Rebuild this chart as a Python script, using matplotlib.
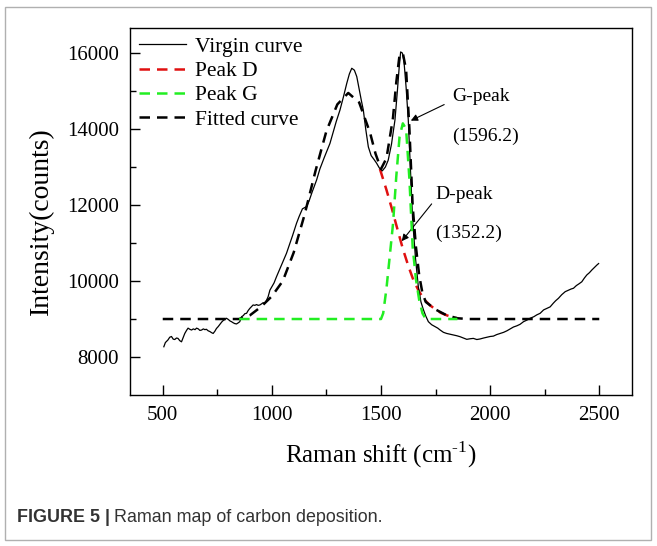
import matplotlib
matplotlib.use("Agg")
import matplotlib.pyplot as plt
from matplotlib.patches import Rectangle

# ---------------- data ----------------
virgin_x = [505, 512, 524, 532, 540, 548, 555, 563, 570, 578, 586, 594, 601, 609, 616, 624, 632, 640, 648, 655,
            663, 670, 678, 686, 693, 700, 708, 716, 724, 731, 739, 746, 754, 762, 770, 777, 785, 792, 800, 808,
            815, 823, 830, 838, 846, 853, 861, 869, 876, 884, 891, 899, 907, 914, 922, 930, 937, 945, 953, 960,
            968, 976, 983, 991, 1000, 1010, 1021, 1035, 1050, 1067, 1080, 1095, 1113, 1125, 1140, 1159, 1170,
            1185, 1205, 1220, 1240, 1266, 1280, 1295, 1312, 1328, 1343, 1355, 1366, 1378, 1389, 1400, 1410,
            1419, 1430, 1442, 1455, 1468, 1480, 1492, 1506, 1520, 1533, 1548, 1564, 1575, 1583, 1590, 1598,
            1605, 1615, 1625, 1635, 1645, 1658, 1671, 1683, 1694, 1705, 1717, 1732, 1748, 1760, 1771, 1786,
            1801, 1816, 1832, 1847, 1862, 1877, 1893, 1908, 1923, 1939, 1954, 1970, 1985, 2000, 2015, 2030,
            2046, 2062, 2077, 2092, 2107, 2122, 2137, 2153, 2168, 2183, 2200, 2214, 2229, 2245, 2260, 2275,
            2290, 2300, 2313, 2328, 2344, 2360, 2371, 2382, 2395, 2408, 2420, 2432, 2443, 2455, 2466, 2478,
            2489, 2497]
virgin_y = [8270, 8380, 8450, 8520, 8540, 8470, 8460, 8500, 8490, 8430, 8400, 8520, 8620, 8700, 8760, 8730, 8710,
            8740, 8720, 8760, 8740, 8700, 8710, 8740, 8720, 8730, 8690, 8670, 8640, 8620, 8680, 8750, 8800, 8860,
            8920, 8960, 8990, 9020, 8990, 8950, 8930, 8900, 8880, 8870, 8900, 8930, 9060, 9090, 9140, 9150, 9220,
            9280, 9330, 9370, 9360, 9380, 9360, 9370, 9400, 9430, 9410, 9500, 9590, 9760, 9850, 9950, 10110,
            10300, 10500, 10730, 10950, 11200, 11520, 11700, 11900, 11960, 12100, 12350, 12660, 12950, 13250,
            13620, 13900, 14200, 14500, 14850, 15200, 15450, 15600, 15550, 15380, 15050, 14750, 14500, 14000,
            13530, 13300, 13200, 13100, 12980, 12900, 13000, 13180, 13600, 14240, 15000, 15600, 16030, 16000,
            15800, 15100, 14240, 12900, 11600, 10600, 9850, 9450, 9250, 9080, 8930, 8850, 8800, 8760, 8710, 8650,
            8620, 8600, 8580, 8560, 8535, 8500, 8465, 8480, 8490, 8460, 8475, 8500, 8520, 8540, 8550, 8590, 8620,
            8650, 8690, 8740, 8790, 8820, 8860, 8930, 8970, 9020, 9060, 9110, 9150, 9240, 9280, 9320, 9420, 9480,
            9545, 9640, 9720, 9760, 9790, 9810, 9880, 9930, 9980, 10080, 10160, 10220, 10290, 10360, 10420, 10460]

peakD_x = [1495, 1525, 1550, 1575, 1600, 1625, 1650, 1675, 1700, 1725, 1750, 1775, 1800, 1825, 1850]
peakD_y = [12950, 12400, 11900, 11370, 10850, 10400, 10000, 9720, 9500, 9360, 9250, 9160, 9100, 9050, 9020]

peakG_x = [850, 1500, 1510, 1525, 1540, 1555, 1570, 1585, 1600, 1615, 1630, 1645, 1660, 1675, 1690, 1705, 1850]
peakG_y = [9000, 9000, 9150, 9800, 10650, 11500, 12750, 13800, 14150, 14000, 12700, 10900, 10050, 9500, 9150,
           9000, 9000]

fitted_x = [500, 850, 900, 950, 1000, 1050, 1100, 1150, 1200, 1250, 1300, 1350, 1400, 1450, 1475, 1500, 1525,
            1540, 1555, 1570, 1585, 1600, 1615, 1630, 1645, 1660, 1675, 1690, 1705, 1750, 1800, 1850, 1900, 2500]
fitted_y = [9000, 9000, 9100, 9320, 9600, 10000, 10750, 11750, 12900, 13950, 14650, 14950, 14700, 13900, 13350,
            12950, 13230, 13760, 14300, 15230, 15950, 16000, 15560, 14020, 11980, 10900, 10150, 9680, 9450, 9250,
            9100, 9020, 9000, 9000]

x_ticks = [500, 1000, 1500, 2000, 2500]
y_ticks = [8000, 10000, 12000, 14000, 16000]

# ---------------- figure ----------------
W, H, DPI = 657, 546, 100
fig = plt.figure(figsize=(W / DPI, H / DPI), dpi=DPI)
serif = ["Liberation Serif", "DejaVu Serif"]

def fx(px):
    return px / W

def fy(py):
    return 1 - py / H

# outer frame
fig.patches.append(Rectangle((fx(5), fy(540)), fx(646), 533 / H, transform=fig.transFigure,
                             fill=False, edgecolor="#b0b0b0", lw=1.0))

ax = fig.add_axes([fx(130), fy(395), fx(502), (395 - 28) / H])
ax.set_xlim(350, 2650)
ax.set_ylim(7000, 16660)

dash = (0, (4.2, 2.8))
ax.plot(virgin_x, virgin_y, color="black", lw=0.9, label="Virgin curve", zorder=3)
ax.plot(peakD_x, peakD_y, color="#e01010", lw=1.8, ls=dash, label="Peak D", zorder=2)
ax.plot(peakG_x, peakG_y, color="#22ee22", lw=1.8, ls=dash, label="Peak G", zorder=4)
ax.plot(fitted_x, fitted_y, color="black", lw=1.8, ls=dash, label="Fitted curve", zorder=2.5)

ax.set_xticks(x_ticks)
ax.set_yticks(y_ticks)
ax.set_xticks([750, 1250, 1750, 2250], minor=True)
ax.set_yticks([9000, 11000, 13000, 15000], minor=True)
ax.tick_params(which="both", direction="in", top=False, right=False, width=1)
ax.tick_params(which="major", length=7, pad=8)
ax.tick_params(which="minor", length=4)
for lab in ax.get_xticklabels() + ax.get_yticklabels():
    lab.set_fontfamily(serif)
    lab.set_fontsize(15)
for s in ax.spines.values():
    s.set_linewidth(1.0)

ax.set_xlabel("Raman shift (cm$^{\\mathregular{\u20101}}$)", fontfamily=serif, fontsize=18, labelpad=10)
ax.set_ylabel("Intensity(counts)", fontfamily=serif, fontsize=20)
ax.yaxis.set_label_coords(-0.152, 0.474)

leg = ax.legend(loc="upper left", frameon=False, prop={"family": serif, "size": 15.5},
                handlelength=2.2, handletextpad=0.4, labelspacing=0.2, borderaxespad=0.2,
                borderpad=0.2)

# annotations
ax.annotate("", xy=(1625, 14190), xytext=(1801, 14676),
            arrowprops=dict(arrowstyle="-|>", color="black", lw=0.8, mutation_scale=10))
ax.annotate("", xy=(1587, 10992), xytext=(1740, 12087),
            arrowprops=dict(arrowstyle="-|>", color="black", lw=0.8, mutation_scale=10))
ax.text(1826, 14868, "G-peak", fontfamily=serif, fontsize=14, va="center", ha="left")
ax.text(1826, 13816, "(1596.2)", fontfamily=serif, fontsize=14, va="center", ha="left")
ax.text(1748, 12290, "D-peak", fontfamily=serif, fontsize=14, va="center", ha="left")
ax.text(1748, 11263, "(1352.2)", fontfamily=serif, fontsize=14, va="center", ha="left")

# caption
sans = ["Liberation Sans", "DejaVu Sans"]
t1 = fig.text(fx(17), fy(518), "FIGURE 5 |", fontfamily=sans, fontweight="bold", fontsize=12.9,
              color="#333333", va="center", ha="left")
fig.canvas.draw()
bb = t1.get_window_extent()
fig.text(fx(bb.x1 + 4), fy(518), "Raman map of carbon deposition.", fontfamily=sans, fontsize=12.9,
         color="#333333", va="center", ha="left")

fig.savefig("out.png", dpi=DPI)
